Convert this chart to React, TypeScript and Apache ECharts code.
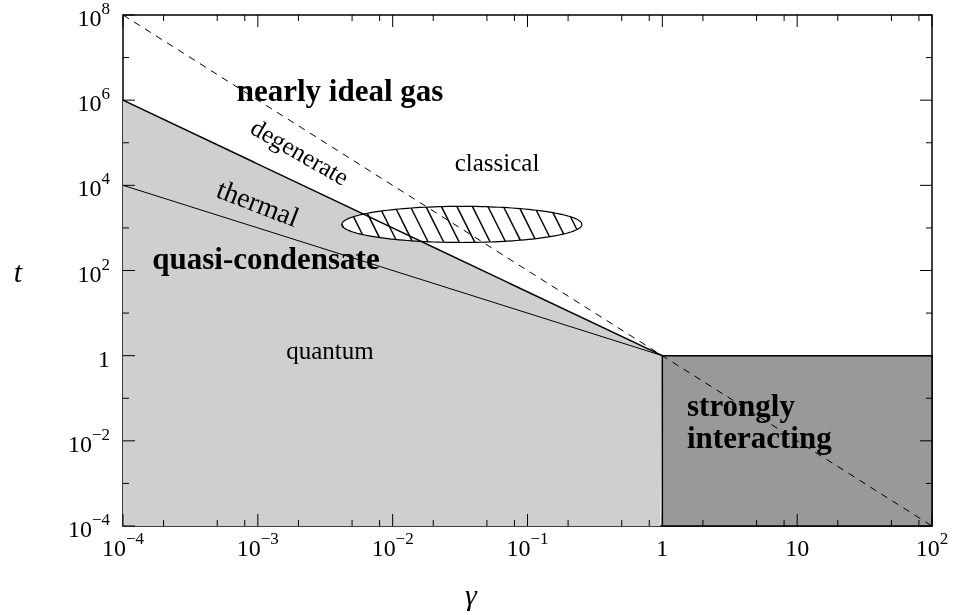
import React, { useEffect, useRef } from "react";
import * as echarts from "echarts";

const FONT = "Liberation Serif";

// axis ticks (exponents of 10)
const xTickExponents = [-4, -3, -2, -1, 0, 1, 2];
const yTickExponents = [-4, -2, 0, 2, 4, 6, 8];
const yMinorExponents = [-3, -1, 1, 3, 5, 7];
const minorMantissas = [2, 5, 8];

// boundary lines (gamma, t)
const dashedGamma = [1e-4, 1e2];
const dashedT = [1e8, 1e-4];
const degenerateGamma = [1e-4, 1];
const degenerateT = [1e6, 1];
const thermalGamma = [1e-4, 1];
const thermalT = [1e4, 1];

// regions
const quantumGamma = [1e-4, 1, 0.965, 1e-4];
const quantumT = [1e6, 1, 1e-4, 1e-4];
const strongGamma = [1, 1e2, 1e2, 1];
const strongT = [1, 1, 1e-4, 1e-4];

// hatched ellipse extent
const ellipseGamma = [0.0042, 0.253];
const ellipseT = [455, 3210];

const lg = Math.log10;

function expLabel(v: number) {
  const n = Math.round(v);
  if (n === 0) return "{b|1}";
  if (n === 1) return "{b|10}";
  return `{b|10}{s|${n < 0 ? "\u2212" + -n : n}}`;
}

const rich = {
  b: { fontFamily: FONT, fontSize: 24, lineHeight: 30, verticalAlign: "bottom", color: "#000" },
  s: { fontFamily: FONT, fontSize: 17, lineHeight: 17, verticalAlign: "top", color: "#000" },
};

function polygonSeries(gs: number[], ts: number[], fill: string, stroke: string, lw: number) {
  const pts = gs.map((g, i) => [lg(g), lg(ts[i])]);
  return {
    type: "custom",
    data: [pts[0]],
    renderItem: (_p: any, api: any) => ({
      type: "polygon",
      shape: { points: pts.map((p) => api.coord(p)) },
      style: { fill, stroke, lineWidth: lw },
    }),
  };
}

function lineSeries(gs: number[], ts: number[], width: number, type: any) {
  return {
    type: "line",
    symbol: "none",
    data: gs.map((g, i) => [lg(g), lg(ts[i])]),
    lineStyle: { color: "#000", width, type },
  };
}

export default function App() {
  const ref = useRef<HTMLDivElement>(null);
  useEffect(() => {
    if (!ref.current) return;
    const chart = echarts.init(ref.current, null, { renderer: "svg" });

    const xMin = xTickExponents[0];
    const xMax = xTickExponents[xTickExponents.length - 1];
    const yMin = yTickExponents[0];
    const yMax = yTickExponents[yTickExponents.length - 1];

    // tick marks: [x, y, length, isX]
    const ticks: number[][] = [];
    for (const e of xTickExponents) ticks.push([e, yMin, 12, 1]);
    for (let k = xMin; k < xMax; k++) for (const m of minorMantissas) ticks.push([lg(m) + k, yMin, 6, 1]);
    for (const e of yTickExponents) ticks.push([xMin, e, 12, 0]);
    for (const e of yMinorExponents) ticks.push([xMin, e, 6, 0]);

    const textEl = (text: string, x: number, y: number, font: string, rot = 0, align = "center") => ({
      type: "text",
      x,
      y,
      rotation: rot,
      z: 100,
      style: { text, font, fill: "#000", align, verticalAlign: "middle" },
    });

    chart.setOption({
      animation: false,
      grid: { left: 123, right: 24, top: 14, bottom: 89, show: true, borderColor: "#000", borderWidth: 1.5, backgroundColor: "transparent" },
      xAxis: {
        type: "value",
        min: xMin,
        max: xMax,
        interval: 1,
        axisLine: { show: false },
        axisTick: { show: false },
        splitLine: { show: false },
        axisLabel: { margin: 4, formatter: expLabel, rich },
      },
      yAxis: {
        type: "value",
        min: yMin,
        max: yMax,
        interval: 2,
        axisLine: { show: false },
        axisTick: { show: false },
        splitLine: { show: false },
        axisLabel: { margin: 13, formatter: expLabel, rich },
      },
      series: [
        polygonSeries(quantumGamma, quantumT, "#cfcfcf", "none", 0),
        polygonSeries(strongGamma, strongT, "#999999", "#000", 1.5),
        lineSeries(thermalGamma, thermalT, 1, "solid"),
        lineSeries(degenerateGamma, degenerateT, 1.5, "solid"),
        lineSeries(dashedGamma, dashedT, 1, [7, 6]),
        {
          type: "custom",
          data: [[lg(ellipseGamma[0]), lg(ellipseT[0]), lg(ellipseGamma[1]), lg(ellipseT[1])]],
          renderItem: (_p: any, api: any) => {
            const a = api.coord([api.value(0), api.value(1)]);
            const b = api.coord([api.value(2), api.value(3)]);
            const cx = (a[0] + b[0]) / 2;
            const cy = (a[1] + b[1]) / 2;
            const rx = Math.abs(b[0] - a[0]) / 2;
            const ry = Math.abs(b[1] - a[1]) / 2;
            const pts: number[][] = [];
            for (let i = 0; i < 160; i++) {
              const th = (i / 160) * Math.PI * 2;
              pts.push([cx + rx * Math.cos(th), cy + ry * Math.sin(th)]);
            }
            const children: any[] = [
              { type: "polygon", shape: { points: pts }, style: { fill: "#fff", stroke: "none" } },
            ];
            const s = 15.5;
            const slope = 2;
            const A = 1 / (rx * rx) + (slope * slope) / (ry * ry);
            for (let k = -30; k <= 30; k++) {
              const d = k * s + 4;
              const B = (2 * d) / (rx * rx);
              const C = (d * d) / (rx * rx) - 1;
              const disc = B * B - 4 * A * C;
              if (disc <= 0) continue;
              const u1 = (-B - Math.sqrt(disc)) / (2 * A);
              const u2 = (-B + Math.sqrt(disc)) / (2 * A);
              children.push({
                type: "line",
                shape: { x1: cx + d + u1, y1: cy + slope * u1, x2: cx + d + u2, y2: cy + slope * u2 },
                style: { stroke: "#000", lineWidth: 1.5 },
              });
            }
            children.push({
              type: "polygon",
              shape: { points: pts },
              style: { fill: "none", stroke: "#000", lineWidth: 1.2 },
            });
            return { type: "group", children };
          },
        },
        {
          type: "custom",
          data: ticks,
          renderItem: (_p: any, api: any) => {
            const len = api.value(2);
            const isX = api.value(3) === 1;
            if (isX) {
              const v = api.value(0);
              const bot = api.coord([v, yMin]);
              const top = api.coord([v, yMax]);
              return {
                type: "group",
                children: [
                  { type: "line", shape: { x1: bot[0], y1: bot[1], x2: bot[0], y2: bot[1] - len }, style: { stroke: "#000", lineWidth: 1 } },
                  { type: "line", shape: { x1: top[0], y1: top[1], x2: top[0], y2: top[1] + len }, style: { stroke: "#000", lineWidth: 1 } },
                ],
              };
            }
            const v = api.value(1);
            const l = api.coord([xMin, v]);
            const r = api.coord([xMax, v]);
            return {
              type: "group",
              children: [
                { type: "line", shape: { x1: l[0], y1: l[1], x2: l[0] + len, y2: l[1] }, style: { stroke: "#000", lineWidth: 1 } },
                { type: "line", shape: { x1: r[0], y1: r[1], x2: r[0] - len, y2: r[1] }, style: { stroke: "#000", lineWidth: 1 } },
              ],
            };
          },
        },
      ],
      graphic: [
        textEl("nearly ideal gas", 340, 90, `bold 31px ${FONT}`),
        textEl("degenerate", 300, 152, `25px ${FONT}`, -0.52),
        textEl("classical", 497, 162, `25px ${FONT}`),
        textEl("thermal", 258, 203, `28px ${FONT}`, -0.37),
        textEl("quasi-condensate", 266, 258, `bold 31px ${FONT}`),
        textEl("quantum", 330, 350, `25px ${FONT}`),
        textEl("strongly", 687, 405, `bold 31px ${FONT}`, 0, "left"),
        textEl("interacting", 687, 437, `bold 31px ${FONT}`, 0, "left"),
        textEl("t", 18, 271, `italic 30px ${FONT}`),
        textEl("\u03b3", 471, 594, `italic 30px ${FONT}`),
      ],
    });
    return () => chart.dispose();
  }, []);
  return <div ref={ref} style={{ position: "fixed", left: 0, top: 0, width: 956, height: 615 }} />;
}
